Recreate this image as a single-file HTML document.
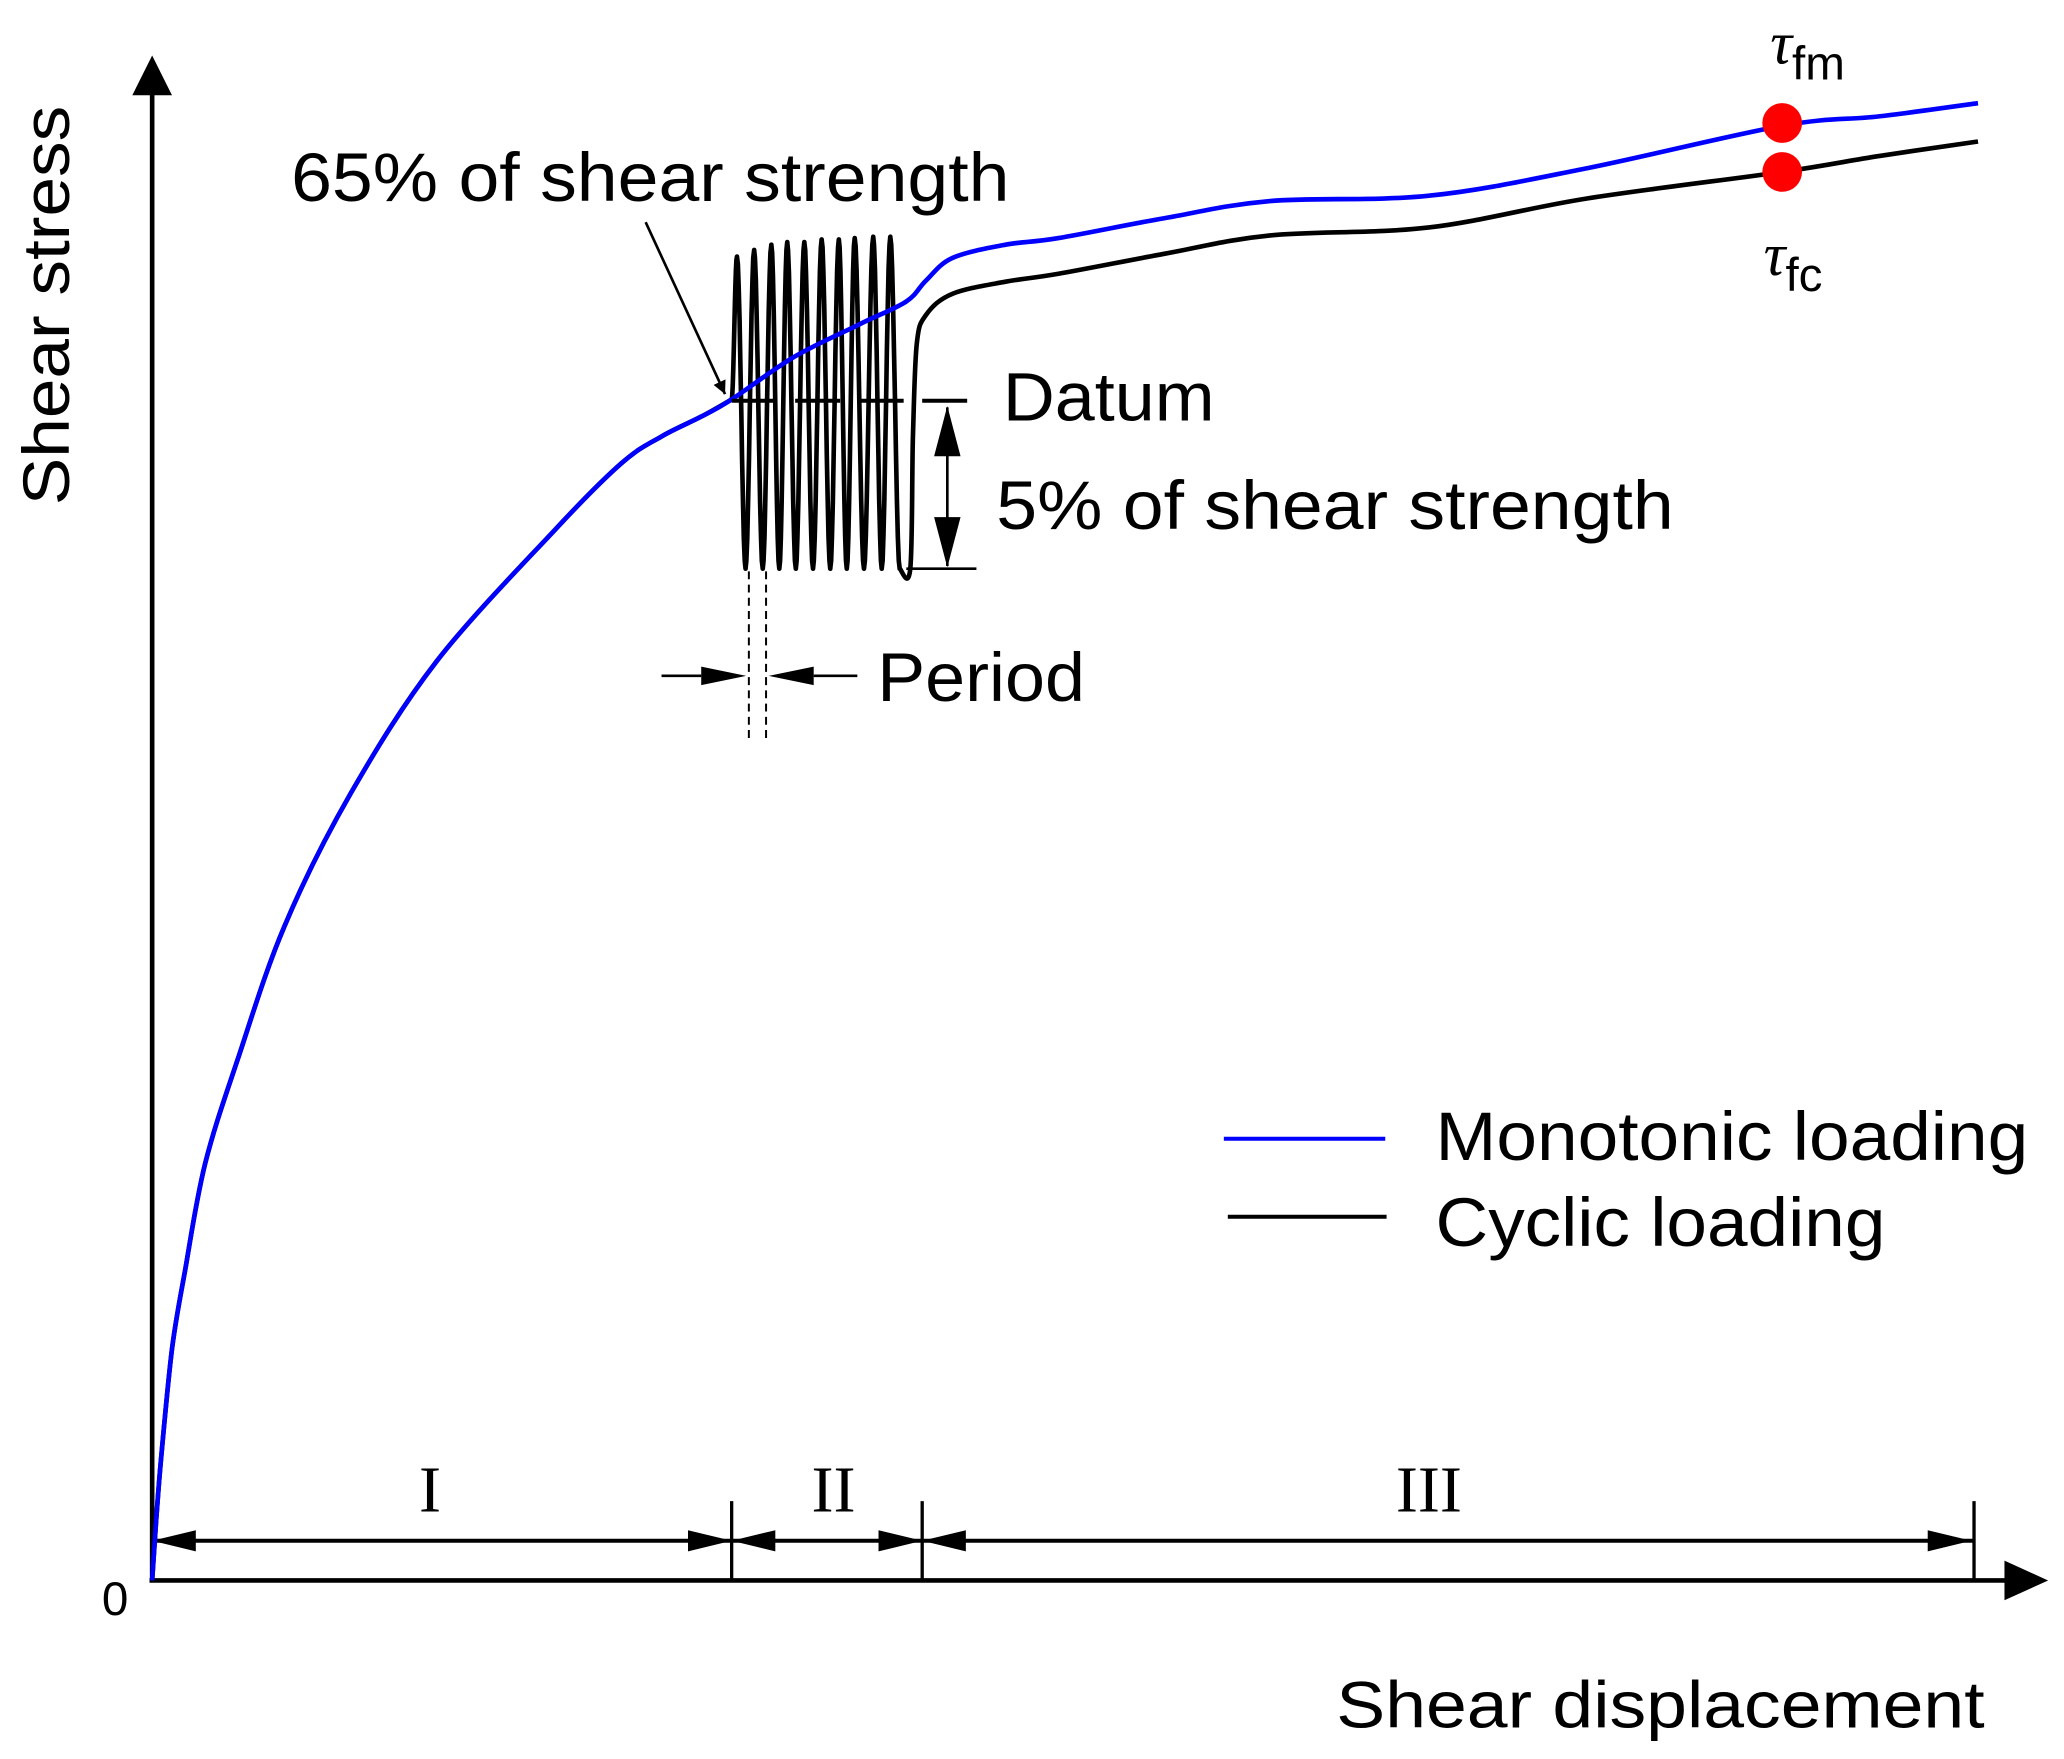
<!DOCTYPE html>
<html><head><meta charset="utf-8">
<style>
html,body{margin:0;padding:0;background:#fff;}
svg{display:block;}
text{font-family:"Liberation Sans",sans-serif;fill:#000;}
.serif{font-family:"Liberation Serif",serif;}
</style></head>
<body>
<svg id="chart" width="2064" height="1759" viewBox="0 0 1560 1330" preserveAspectRatio="none" xmlns="http://www.w3.org/2000/svg">
<defs>
<marker id="ah" viewBox="0 0 10 10" refX="10" refY="5" markerWidth="10" markerHeight="10" markerUnits="userSpaceOnUse" orient="auto"><path d="M0,0 L10,5 L0,10 z" fill="#000"/></marker>
</defs>
<g id="axes">
<line x1="115" y1="1195" x2="115" y2="70" stroke="#000" stroke-width="3.5"/>
<polygon points="100,72 115,42 130,72" fill="#000"/>
<line x1="113" y1="1195" x2="1520" y2="1195" stroke="#000" stroke-width="3.5"/>
<polygon points="1515,1180 1548,1195 1515,1210" fill="#000"/>
<text x="87" y="1221" font-size="36" text-anchor="middle">0</text>
<text transform="translate(52,382) rotate(-90)" font-size="50" textLength="302" lengthAdjust="spacingAndGlyphs">Shear stress</text>
<text x="1010" y="1306" font-size="50" textLength="490" lengthAdjust="spacingAndGlyphs">Shear displacement</text>
</g>
<g id="regions">
<line x1="553" y1="1135" x2="553" y2="1195" stroke="#000" stroke-width="2.5"/>
<line x1="697" y1="1135" x2="697" y2="1195" stroke="#000" stroke-width="2.5"/>
<line x1="1492" y1="1135" x2="1492" y2="1195" stroke="#000" stroke-width="2.5"/>
<line x1="115" y1="1165" x2="553" y2="1165" stroke="#000" stroke-width="3"/>
<polygon points="115,1165 148,1157 148,1173" fill="#000"/>
<polygon points="553,1165 520,1157 520,1173" fill="#000"/>
<line x1="553" y1="1165" x2="697" y2="1165" stroke="#000" stroke-width="3"/>
<polygon points="553,1165 586,1157 586,1173" fill="#000"/>
<polygon points="697,1165 664,1157 664,1173" fill="#000"/>
<line x1="697" y1="1165" x2="1492" y2="1165" stroke="#000" stroke-width="3"/>
<polygon points="697,1165 730,1157 730,1173" fill="#000"/>
<polygon points="1490,1165 1457,1157 1457,1173" fill="#000"/>
<text class="serif" x="325" y="1143" font-size="50" text-anchor="middle">I</text>
<text class="serif" x="630" y="1143" font-size="50" text-anchor="middle">II</text>
<text class="serif" x="1080" y="1143" font-size="50" text-anchor="middle">III</text>
</g>
<g id="series"></g>
<g id="annotations">
<text x="220" y="152" font-size="52" textLength="543" lengthAdjust="spacingAndGlyphs">65% of shear strength</text>
<line x1="488" y1="168" x2="548" y2="298" stroke="#000" stroke-width="2" marker-end="url(#ah)"/>
<line x1="553" y1="303" x2="740" y2="303" stroke="#000" stroke-width="3" stroke-dasharray="34,14"/>
<text x="758" y="318" font-size="52" textLength="160" lengthAdjust="spacingAndGlyphs">Datum</text>
<line x1="716" y1="308" x2="716" y2="428" stroke="#000" stroke-width="2"/>
<polygon points="716,307 706,345 726,345" fill="#000"/>
<polygon points="716,429 706,391 726,391" fill="#000"/>
<line x1="685" y1="430" x2="738" y2="430" stroke="#000" stroke-width="2"/>
<text x="753" y="400" font-size="52" textLength="512" lengthAdjust="spacingAndGlyphs">5% of shear strength</text>
<line x1="566" y1="432" x2="566" y2="558" stroke="#000" stroke-width="1.5" stroke-dasharray="6,4"/>
<line x1="579" y1="432" x2="579" y2="558" stroke="#000" stroke-width="1.5" stroke-dasharray="6,4"/>
<line x1="500" y1="511" x2="530" y2="511" stroke="#000" stroke-width="2"/>
<polygon points="564,511 530,504 530,518" fill="#000"/>
<line x1="615" y1="511" x2="648" y2="511" stroke="#000" stroke-width="2"/>
<polygon points="581,511 615,504 615,518" fill="#000"/>
<text x="663" y="530" font-size="52" textLength="157" lengthAdjust="spacingAndGlyphs">Period</text>
<circle cx="1347" cy="93" r="15" fill="#f00"/>
<circle cx="1347" cy="130" r="15" fill="#f00"/>
<text x="1338" y="48" font-size="46"><tspan class="serif" font-style="italic">τ</tspan><tspan font-size="36" dy="12">fm</tspan></text>
<text x="1333" y="208" font-size="46"><tspan class="serif" font-style="italic">τ</tspan><tspan font-size="36" dy="12">fc</tspan></text>
</g>
<g id="legend">
<line x1="925" y1="861" x2="1047" y2="861" stroke="#0000ff" stroke-width="3"/>
<text x="1085" y="877" font-size="52" textLength="448" lengthAdjust="spacingAndGlyphs">Monotonic loading</text>
<line x1="928" y1="920" x2="1048" y2="920" stroke="#000" stroke-width="3"/>
<text x="1085" y="942" font-size="52" textLength="340" lengthAdjust="spacingAndGlyphs">Cyclic loading</text>
</g>
</svg>
<script>
// Monotonic loading curve (displacement 0..100, stress 0..100)
var monoDisp = [0,0.22,0.51,1.09,1.81,2.9,4.71,7.25,10.87,15.58,22.1,25.72,27.9,30.07,31.74,35.14,38.77,41.3,42.39,43.84,46.74,49.64,55.43,61.23,69.93,78.62,89.28,94.57,100];
var monoStress = [0,4.04,8.52,15.7,21.08,28.25,35.43,44.39,53.36,62.33,71.3,75.78,77.58,78.92,80.09,82.96,85.2,86.73,88.16,89.69,90.58,91.03,92.38,93.54,93.9,95.78,98.65,99.28,100.18];
// Cyclic loading: cycle peaks, trough level, then post-cycle curve
var cycPeakDisp = [32.03,32.97,33.91,34.78,35.72,36.67,37.61,38.48,39.49,40.43];
var cycPeakStress = [89.78,90.22,90.58,90.76,90.76,90.94,90.94,91.03,91.12,91.12];
var cycTroughStress = 68.61;
var cycLastTroughDisp = 40.94;
var postDisp = [41.52,41.67,41.88,42.39,43.84,46.74,49.64,55.43,61.23,69.93,78.62,89.28,94.57,100];
var postStress = [68.61,77.58,83.86,85.83,87.26,88.07,88.61,89.96,91.21,91.75,93.72,95.52,96.59,97.58];

function xs(d){return 115 + d*13.8;}
function ys(s){return 1195 - s*11.15;}

var g = document.getElementById('series');
var NS = 'http://www.w3.org/2000/svg';

function smoothPath(pts){
  var d = 'M' + pts[0][0].toFixed(1) + ',' + pts[0][1].toFixed(1);
  for (var i=0;i<pts.length-1;i++){
    var p0 = pts[i-1] || pts[i], p1 = pts[i], p2 = pts[i+1], p3 = pts[i+2] || pts[i+1];
    var c1x = p1[0] + (p2[0]-p0[0])/6, c1y = p1[1] + (p2[1]-p0[1])/6;
    var c2x = p2[0] - (p3[0]-p1[0])/6, c2y = p2[1] - (p3[1]-p1[1])/6;
    d += ' C' + c1x.toFixed(1)+','+c1y.toFixed(1)+' '+c2x.toFixed(1)+','+c2y.toFixed(1)+' '+p2[0].toFixed(1)+','+p2[1].toFixed(1);
  }
  return d;
}
// half-cosine segment between two extremes (waveform shape)
function cosSeg(arr, x0, y0, x1, y1){
  for (var t=1;t<=10;t++){
    var u = t/10;
    arr.push([x0 + (x1-x0)*u, y0 + (y1-y0)*(1-Math.cos(Math.PI*u))/2]);
  }
}

// cyclic curve
var pre = [];
for (var i=0;i<monoDisp.length;i++){ if (monoDisp[i] <= 31.74) pre.push([xs(monoDisp[i]), ys(monoStress[i])]); }
var cycD = smoothPath(pre);
var wave = [];
var cx = pre[pre.length-1][0], cy = pre[pre.length-1][1];
for (var j=0;j<cycPeakDisp.length;j++){
  var px = xs(cycPeakDisp[j]), py = ys(cycPeakStress[j]);
  cosSeg(wave, cx, cy, px, py);
  var nextD = (j < cycPeakDisp.length-1) ? (cycPeakDisp[j]+cycPeakDisp[j+1])/2 : cycLastTroughDisp;
  cx = xs(nextD); cy = ys(cycTroughStress);
  cosSeg(wave, px, py, cx, cy);
}
cycD += ' ' + wave.map(function(p){return 'L'+p[0].toFixed(1)+','+p[1].toFixed(1);}).join(' ');
var post = [[cx,cy]];
for (var k=0;k<postDisp.length;k++){ post.push([xs(postDisp[k]), ys(postStress[k])]); }
cycD += ' ' + smoothPath(post).replace(/^M/, 'L');

var cycLine = document.createElementNS(NS,'path');


cycLine.setAttribute('d', cycD);
cycLine.setAttribute('fill','none');
cycLine.setAttribute('stroke','#000');
cycLine.setAttribute('stroke-width','3.5');
cycLine.setAttribute('stroke-linejoin','round');
g.appendChild(cycLine);

var mono = [];
for (var m=0;m<monoDisp.length;m++){ mono.push([xs(monoDisp[m]), ys(monoStress[m])]); }
var monoLine = document.createElementNS(NS,'path');


monoLine.setAttribute('d', smoothPath(mono));
monoLine.setAttribute('fill','none');
monoLine.setAttribute('stroke','#0000ff');
monoLine.setAttribute('stroke-width','3.5');
monoLine.setAttribute('stroke-linejoin','round');
g.appendChild(monoLine);
</script>
</body></html>
